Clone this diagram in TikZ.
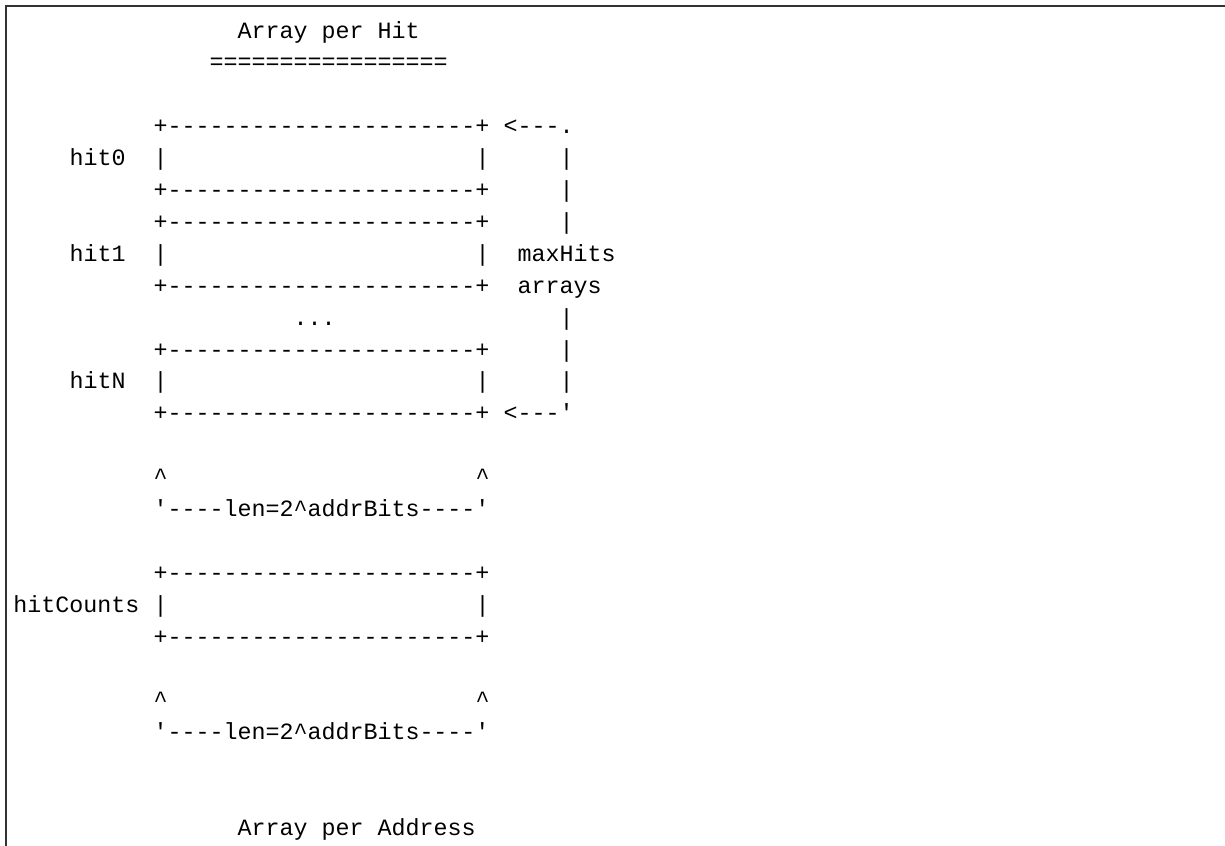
\documentclass[tikz,border=0pt]{standalone}
\usepackage{fontspec}
\newfontfamily\ascfont{Liberation Mono}
\newcommand\boxrow{+----------------------+}
\newcommand\lenrow{\char"27----len=2\textasciicircum addrBits----\char"27}
\newcommand\ascnode[4]{\node[asc] (#1) at ({13.5+14*#2},{38+31.9*#3}) {#4};}
\tikzset{asc/.style={font=\ascfont\fontsize{17.5}{20}\selectfont, anchor=base west, inner sep=0pt, outer sep=0pt, text=black}}
\begin{document}
\begin{tikzpicture}[x=0.75pt,y=-0.75pt]
\useasboundingbox (0,0) rectangle (1225,846);
\fill[white] (0,0) rectangle (1225,846);
\coordinate (fb) at (6,846);
\coordinate (fc) at (6,6);
\coordinate (fr) at (1225,6);
\draw[line width=1pt, color=black!80] (fb) -- (fc) -- (fr);
% title
\ascnode{t1}{16}{0}{Array per Hit}
\ascnode{t1u}{14}{1}{=================}
% hit0
\ascnode{b0t}{10}{3}{\boxrow}
\ascnode{a0}{35}{3}{<---.}
\ascnode{h0}{4}{4}{hit0}
\ascnode{h0l}{10}{4}{|}
\ascnode{h0r}{33}{4}{|}
\ascnode{v4}{39}{4}{|}
\ascnode{b0b}{10}{5}{\boxrow}
\ascnode{v5}{39}{5}{|}
% hit1
\ascnode{b1t}{10}{6}{\boxrow}
\ascnode{v6}{39}{6}{|}
\ascnode{h1}{4}{7}{hit1}
\ascnode{h1l}{10}{7}{|}
\ascnode{h1r}{33}{7}{|}
\ascnode{mh}{36}{7}{maxHits}
\ascnode{b1b}{10}{8}{\boxrow}
\ascnode{ar}{36}{8}{arrays}
\ascnode{dots}{20}{9}{...}
\ascnode{v9}{39}{9}{|}
% hitN
\ascnode{bNt}{10}{10}{\boxrow}
\ascnode{v10}{39}{10}{|}
\ascnode{hN}{4}{11}{hitN}
\ascnode{hNl}{10}{11}{|}
\ascnode{hNr}{33}{11}{|}
\ascnode{v11}{39}{11}{|}
\ascnode{bNb}{10}{12}{\boxrow}
\ascnode{a1}{35}{12}{<---\char"27}
% len 1
\ascnode{c1l}{10}{14}{\textasciicircum}
\ascnode{c1r}{33}{14}{\textasciicircum}
\ascnode{len1}{10}{15}{\lenrow}
% hitCounts
\ascnode{bCt}{10}{17}{\boxrow}
\ascnode{hc}{0}{18}{hitCounts}
\ascnode{hcl}{10}{18}{|}
\ascnode{hcr}{33}{18}{|}
\ascnode{bCb}{10}{19}{\boxrow}
% len 2
\ascnode{c2l}{10}{21}{\textasciicircum}
\ascnode{c2r}{33}{21}{\textasciicircum}
\ascnode{len2}{10}{22}{\lenrow}
% bottom title
\ascnode{t2}{16}{25}{Array per Address}
\end{tikzpicture}
\end{document}
